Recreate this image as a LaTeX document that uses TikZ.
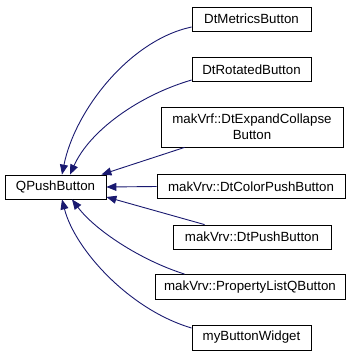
\documentclass[tikz,border=0pt]{standalone}
\usepackage{fontspec}
\setmainfont{Liberation Sans}
\usetikzlibrary{arrows.meta,calc}
\definecolor{edgeblue}{HTML}{191970}
\begin{document}
\begin{tikzpicture}[x=1pt,y=-1pt,
  box/.style={draw=black,line width=0.8pt,fill=white,inner sep=0pt,minimum height=24pt,
    font=\fontsize{13.3}{16}\selectfont,align=center},
  inh/.style={draw=edgeblue,line width=0.9pt,-{Triangle[length=10pt,width=8pt]}}]
\useasboundingbox (0,0) rectangle (355,357);
\node[box,minimum width=101pt] (q) at (55.5,187) {QPushButton};
\node[box,minimum width=119pt] (m) at (251.5,19) {DtMetricsButton};
\node[box,minimum width=119pt] (r) at (251.5,69.5) {DtRotatedButton};
\node[box,minimum width=182pt,minimum height=40pt] (e) at (252,127) {makVrf::DtExpandCollapse\\Button};
\node[box,minimum width=188pt] (c) at (251,186.5) {makVrv::DtColorPushButton};
\node[box,minimum width=158pt] (p) at (252,237) {makVrv::DtPushButton};
\node[box,minimum width=190pt,minimum height=25pt] (l) at (250,287) {makVrv::PropertyListQButton};
\node[box,minimum width=119pt,minimum height=25pt] (w) at (251.5,337.5) {myButtonWidget};
% edges
\draw[inh] ($(m.west)+(0,8)$) .. controls (130,40) and (75,110) .. ($(q.north)+(6.5,0)$);
\draw[inh] ($(r.west)+(0,10.5)$) .. controls (140,95) and (90,130) .. ($(q.north)+(14.5,0)$);
\draw[inh] ($(e.south west)+(24,0)$) -- ($(q.north east)+(-5,0)$);
\draw[inh] (c.west) -- (q.east);
\draw[inh] ($(p.north west)+(32,0)$) -- ($(q.east)+(0,10)$);
\draw[inh] ($(l.north west)+(30,0)$) .. controls (140,260) and (95,230) .. ($(q.south)+(16.5,0)$);
\draw[inh] ($(w.west)+(0,-9.5)$) .. controls (130,310) and (75,250) .. ($(q.south)+(6.5,0)$);
\end{tikzpicture}
\end{document}
